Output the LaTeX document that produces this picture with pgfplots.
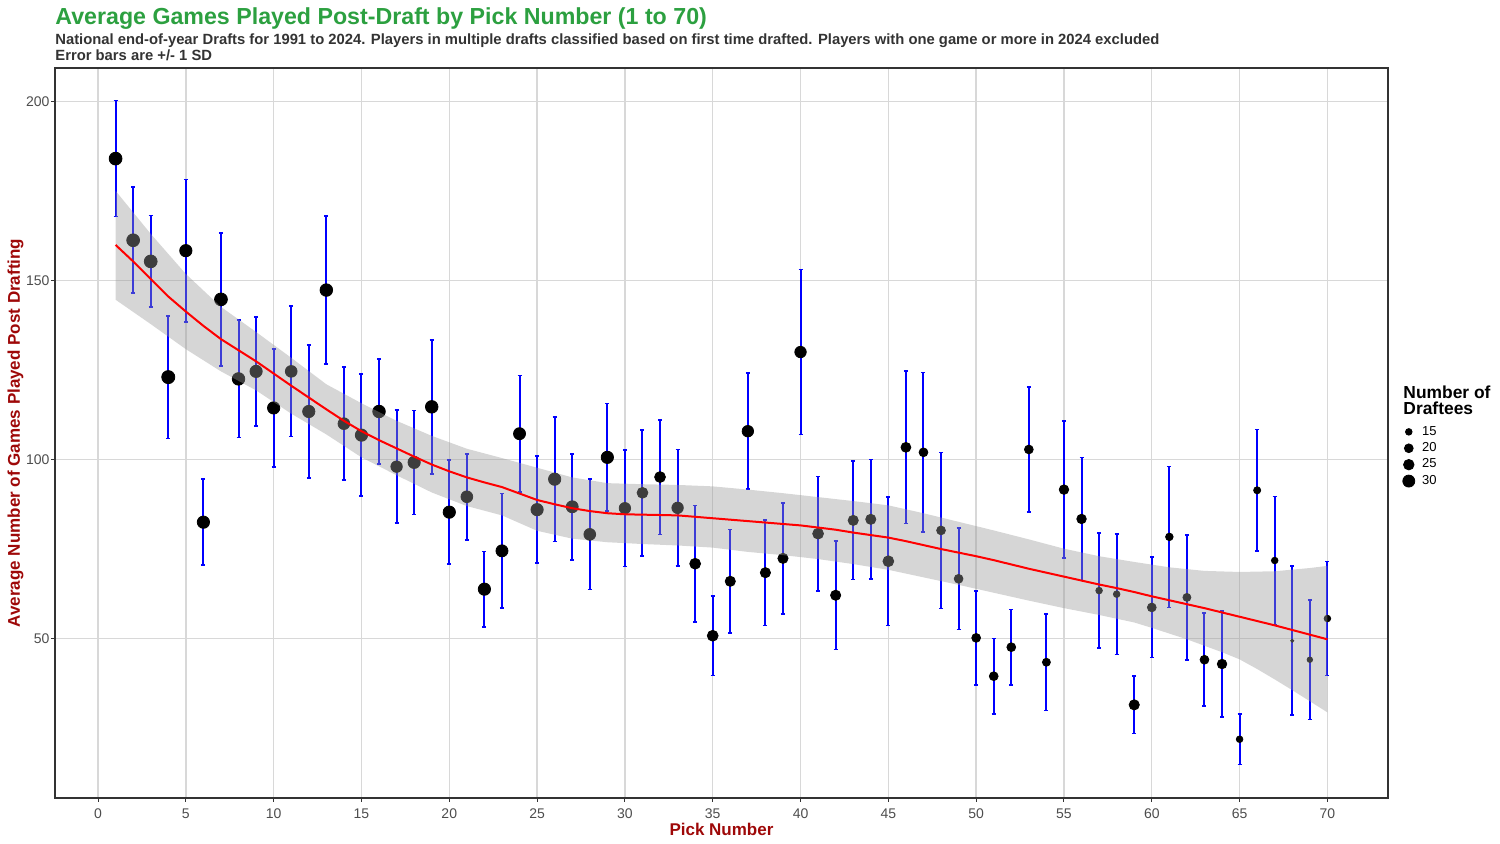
\documentclass[border=0pt]{standalone}
\usepackage{fontspec}
\setmainfont{Liberation Sans}
\usepackage{pgfplots}
\pgfplotsset{compat=1.18}
\usepackage{pgfplotstable}

\definecolor{titlegreen}{RGB}{44,160,64}
\definecolor{labelred}{RGB}{158,8,8}
\definecolor{subgray}{RGB}{51,51,51}
\definecolor{tickgray}{RGB}{77,77,77}
\definecolor{gridgray}{RGB}{216,216,216}
\definecolor{bandgray}{RGB}{153,153,153}
\definecolor{barblue}{RGB}{0,0,255}

% pick, mean games played, standard deviation, number of draftees
\pgfplotstableread{
pick mean sd n
1 184.0 16.2 33
2 161.2 14.8 33
3 155.3 12.8 33
4 123.0 17.1 34
5 158.3 19.9 31
6 82.5 12.0 31
7 144.7 18.6 33
8 122.5 16.4 32
9 124.6 15.2 31
10 114.4 16.5 31
11 124.6 18.2 29
12 113.4 18.5 31
13 147.3 20.6 32
14 110.0 15.8 29
15 106.8 17.0 31
16 113.4 14.7 32
17 98.0 15.8 28
18 99.2 14.5 31
19 114.7 18.7 32
20 85.3 14.5 31
21 89.6 12.0 29
22 63.8 10.5 31
23 74.5 16.0 30
24 107.2 16.2 30
25 86.0 14.9 31
26 94.5 17.4 31
27 86.8 14.8 30
28 79.1 15.4 29
29 100.6 15.0 31
30 86.4 16.3 28
31 90.7 17.6 26
32 95.1 16.0 26
33 86.5 16.3 28
34 70.9 16.3 26
35 50.8 11.1 26
36 66.0 14.5 24
37 107.9 16.2 28
38 68.4 14.7 24
39 72.4 15.5 24
40 130.0 23.0 28
41 79.3 16.0 26
42 62.1 15.1 24
43 83.0 16.5 24
44 83.3 16.7 24
45 71.6 17.9 26
46 103.4 21.3 23
47 102.0 22.3 20
48 80.2 21.8 20
49 66.7 14.2 20
50 50.2 13.1 20
51 39.5 10.5 20
52 47.6 10.5 20
53 102.8 17.4 20
54 43.4 13.5 18
55 91.6 19.1 22
56 83.4 17.2 22
57 63.4 16.0 15
58 62.4 16.8 15
59 31.5 8.0 24
60 58.7 14.0 20
61 78.4 19.7 17
62 61.5 17.5 18
63 44.1 13.0 20
64 42.9 14.8 22
65 21.9 7.0 15
66 91.4 17.0 16
67 71.8 17.9 15
68 49.4 20.8 10
69 44.1 16.7 13
70 55.6 15.9 15
}\picks

% loess fit
\pgfplotstableread{
pick fit
1 159.9
2 155.3
3 150.4
4 145.5
5 141.3
6 137.3
7 133.6
8 130.5
9 127.4
10 124.0
11 120.6
12 117.3
13 114.0
14 110.8
15 107.9
16 105.4
17 103.1
18 100.8
19 98.6
20 96.7
21 95.0
22 93.6
23 92.3
24 90.5
25 88.7
26 87.5
27 86.4
28 85.6
29 85.0
30 84.7
31 84.6
32 84.5
33 84.4
34 84.0
35 83.6
36 83.2
37 82.8
38 82.4
39 82.0
40 81.6
41 81.0
42 80.4
43 79.6
44 78.9
45 78.2
46 77.2
47 76.1
48 75.0
49 74.0
50 73.0
51 71.9
52 70.7
53 69.5
54 68.4
55 67.3
56 66.2
57 65.1
58 64.1
59 63.0
60 61.8
61 60.7
62 59.6
63 58.5
64 57.3
65 56.1
66 54.9
67 53.7
68 52.4
69 51.1
70 49.8
}\smooth

% confidence band outline: upper bound left to right, lower bound back
\pgfplotstableread{
pick band
1 175.0
3 163.0
5 151.8
7 142.6
9 135.6
11 128.4
13 121.0
15 115.7
17 110.8
19 106.6
21 103.0
23 100.4
25 97.7
27 95.0
29 93.4
31 93.1
33 92.9
35 92.5
37 91.6
39 90.6
41 89.5
43 88.4
45 87.2
47 85.0
49 82.6
51 80.2
53 77.7
55 75.1
57 73.0
59 71.4
61 69.9
63 68.9
65 68.6
67 68.8
69 69.7
70 70.3
70 29.4
69 32.5
68 35.6
67 38.6
66 41.5
65 44.2
64 46.2
63 48.0
62 49.8
61 51.4
60 53.0
59 54.5
57 56.6
55 58.5
53 60.6
51 62.8
49 65.0
47 67.1
45 69.2
43 70.8
41 72.2
39 73.3
37 74.2
35 75.4
33 76.0
31 76.4
29 76.9
27 77.9
25 80.1
23 84.4
21 87.0
19 90.8
17 95.6
15 100.6
13 107.0
11 112.8
9 119.3
7 124.6
5 130.8
3 137.8
1 144.6
}\band

\begin{document}
\begin{tikzpicture}
\begin{axis}[
  width=666.5pt, height=365pt, scale only axis,
  xmin=-2.45, xmax=73.45, ymin=5.5, ymax=209.3,
  xtick={0,5,...,70}, ytick={50,100,150,200},
  grid=major, major grid style={draw=gridgray, line width=0.7pt},
  axis line style={draw=subgray, line width=0.55pt},
  tick pos=left, tick align=outside, major tick length=2pt,
  tick style={draw=subgray, line width=0.5pt},
  ticklabel style={font=\fontsize{7}{8}\selectfont, text=tickgray},
  yticklabel style={inner xsep=0.6pt},
  /pgf/number format/assume math mode=true,
  clip mode=individual,
  legend style={at={(axis description cs:1.0105,0.5133)}, anchor=north west,
    draw=none, fill=none, inner sep=0pt, row sep=0pt, column sep=2.5pt,
    font=\fontsize{6.5}{7}\selectfont,
    nodes={inner sep=1pt, text height=4.7pt, text depth=1.5pt}},
  legend cell align=left,
]
% error bars: mean - SD up to mean + SD, with short caps at both ends
\addplot[draw=barblue, line width=1pt, forget plot,
  quiver={u value=0, v={2*\thisrow{sd}}}]
  table[x=pick, y expr={\thisrow{mean}-\thisrow{sd}}] {\picks};
\addplot[draw=barblue, line width=0.8pt, forget plot,
  quiver={u value=0.228, v value=0}]
  table[x expr={\thisrow{pick}-0.114}, y expr={\thisrow{mean}+\thisrow{sd}}] {\picks};
\addplot[draw=barblue, line width=0.8pt, forget plot,
  quiver={u value=0.228, v value=0}]
  table[x expr={\thisrow{pick}-0.114}, y expr={\thisrow{mean}-\thisrow{sd}}] {\picks};
% points sized by number of draftees
\addplot[draw=black, fill=black, scatter, only marks, mark=*, forget plot,
  visualization depends on={sqrt(0.42*(\thisrow{n}-8.5)) \as \rad},
  scatter/@pre marker code/.code={\begin{scope}[mark size=\rad pt]},
  scatter/@post marker code/.code={\end{scope}}]
  table[x=pick, y=mean] {\picks};
% confidence band and smooth
\addplot[fill=bandgray, fill opacity=0.4, draw=none, forget plot] table[x=pick, y=band] {\band};
\addplot[draw=red, line width=1pt, forget plot] table[x=pick, y=fit] {\smooth};

% legend for point size
\addlegendimage{legend image code/.code={\path[draw=none,fill=none] (0pt,-2pt) rectangle (6pt,2pt); \fill[black] (3pt,0pt) circle (1.65pt);}}
\addlegendentry{15}
\addlegendimage{legend image code/.code={\path[draw=none,fill=none] (0pt,-2pt) rectangle (6pt,2pt); \fill[black] (3pt,0pt) circle (2.2pt);}}
\addlegendentry{20}
\addlegendimage{legend image code/.code={\path[draw=none,fill=none] (0pt,-2pt) rectangle (6pt,2pt); \fill[black] (3pt,0pt) circle (2.63pt);}}
\addlegendentry{25}
\addlegendimage{legend image code/.code={\path[draw=none,fill=none] (0pt,-2pt) rectangle (6pt,2pt); \fill[black] (3pt,0pt) circle (3.0pt);}}
\addlegendentry{30}

% titles and axis labels
\node[anchor=base west, inner sep=0, text=titlegreen, font=\fontsize{11.6}{13}\selectfont\bfseries]
  at (axis description cs:0,1.0596) {Average Games Played Post-Draft by Pick Number (1 to 70)};
\node[anchor=base west, inner sep=0, text=subgray, font=\fontsize{7.4}{8.5}\selectfont\bfseries]
  at (axis description cs:0,1.0315) {National end-of-year Drafts for 1991 to 2024. Players in multiple drafts classified based on first time drafted. Players with one game or more in 2024 excluded};
\node[anchor=base west, inner sep=0, text=subgray, font=\fontsize{7.4}{8.5}\selectfont\bfseries]
  at (axis description cs:0,1.0096) {Error bars are +/- 1 SD};
\node[anchor=base, inner sep=0, text=labelred, font=\fontsize{8.5}{10}\selectfont\bfseries]
  at (axis description cs:0.5,-0.0507) {Pick Number};
\node[anchor=base, inner sep=0, rotate=90, text=labelred, font=\fontsize{8.5}{10}\selectfont\bfseries]
  at (axis description cs:-0.0263,0.5) {Average Number of Games Played Post Drafting};
\node[anchor=base west, inner sep=0, font=\fontsize{8.7}{10}\selectfont\bfseries]
  at (axis description cs:1.0113,0.5479) {Number of};
\node[anchor=base west, inner sep=0, font=\fontsize{8.7}{10}\selectfont\bfseries]
  at (axis description cs:1.0113,0.5247) {Draftees};
\end{axis}
\pgfresetboundingbox
\useasboundingbox (-27.5pt,-23pt) rectangle (722.5pt,399pt);
\end{tikzpicture}
\end{document}
